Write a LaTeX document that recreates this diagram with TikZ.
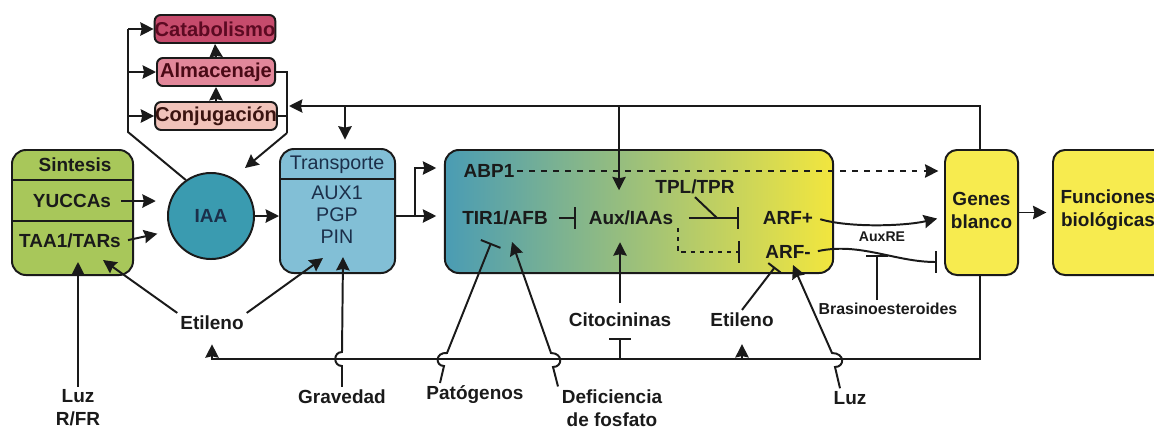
\documentclass[tikz,border=0pt]{standalone}
\usepackage{fontspec}
\setmainfont{Liberation Sans}
\usetikzlibrary{arrows.meta}
\definecolor{catF}{HTML}{C64B6C}
\definecolor{catT}{HTML}{5C0A22}
\definecolor{almF}{HTML}{E2879A}
\definecolor{almT}{HTML}{4A0A16}
\definecolor{conF}{HTML}{F1C3BA}
\definecolor{conT}{HTML}{3A1410}
\definecolor{sinF}{HTML}{A8C75A}
\definecolor{iaaF}{HTML}{3A9BB0}
\definecolor{traF}{HTML}{82BFD6}
\definecolor{bigL}{HTML}{4A9CB4}
\definecolor{bigM}{HTML}{8FC9A3}
\definecolor{bigR}{HTML}{F2E63E}
\definecolor{yel}{HTML}{F7EB4F}
\definecolor{navy}{HTML}{1B2F4A}
\definecolor{ink}{HTML}{1A1A1A}
\begin{document}
\begin{tikzpicture}[x=0.025cm,y=-0.025cm,
  ln/.style={draw=ink,line width=1.4pt},
  arr/.style={ln,-{Stealth[length=9.5pt,width=9.5pt,inset=1pt]}},
  inh/.style={ln,-{Bar[width=15pt,line width=1.4pt]}},
  inhs/.style={ln,-{Bar[width=11pt,line width=1.4pt]}},
  box/.style={draw=ink,line width=1.4pt,rounded corners=0.35cm,inner sep=0pt},
  sbox/.style={draw=ink,line width=1.4pt,rounded corners=0.15cm,inner sep=0pt,
     minimum height=0.7cm,font=\bfseries\fontsize{14.3}{15}\selectfont},
  lbl/.style={inner sep=2pt,font=\bfseries\fontsize{13.5}{16.3}\selectfont,text=ink,align=center},
  reg/.style={inner sep=2pt,font=\fontsize{14}{15.6}\selectfont,text=navy,align=center}
]
\useasboundingbox (0,0) rectangle (1154,429);

% ---- metabolism boxes
\node[sbox,fill=catF,text=catT,minimum width=3cm] (cat) at (215,29) {Catabolismo};
\node[sbox,fill=almF,text=almT,minimum width=2.95cm] (alm) at (216,72) {Almacenaje};
\node[sbox,fill=conF,text=conT,minimum width=2.95cm] (conj) at (216,116) {Conjugación};
\draw[arr] (conj.north) -- (alm.south);
\draw[arr] (alm.north) -- (cat.south);

% ---- synthesis
\node[box,fill=sinF,minimum width=3.025cm,minimum height=3.125cm] (sint) at (72.5,212.5) {};
\draw[ln] (sint.west |- 0,180) -- (sint.east |- 0,180);
\draw[ln] (sint.west |- 0,221) -- (sint.east |- 0,221);
\node[lbl] (sinT) at (75,165) {Sintesis};
\node[lbl] (yuc) at (72,201) {YUCCAs};
\node[lbl] (taa) at (70,241) {TAA1/TARs};

% ---- IAA
\node[circle,draw=ink,line width=1.4pt,fill=iaaF,minimum size=2.15cm,inner sep=0pt,
      font=\bfseries\fontsize{13.5}{15}\selectfont,text=navy] (iaa) at (211,216) {IAA};

% ---- transport
\node[box,fill=traF,minimum width=2.875cm,minimum height=3.1cm] (trans) at (337.5,211) {};
\draw[ln] (trans.west |- 0,179) -- (trans.east |- 0,179);
\node[reg] (traT) at (337,165) {Transporte};
\node[reg] (traL) at (337,215) {AUX1\\PGP\\PIN};

% ---- signalling box
\node[box,left color=bigL,middle color=bigM,right color=bigR,minimum width=9.7cm,minimum height=3.075cm] (big) at (639,211.5) {};
\node[lbl] (abp) at (489,171) {ABP1};
\node[lbl] (tir) at (505,218) {TIR1/AFB};
\node[lbl] (aux) at (631,218) {Aux/IAAs};
\node[lbl] (tpl) at (695,187) {TPL/TPR};
\node[lbl] (arfp) at (788,218) {ARF+};
\node[lbl] (arfm) at (788,252) {ARF-};

% ---- genes / functions
\node[box,fill=yel,minimum width=1.825cm,minimum height=3.125cm,rounded corners=0.3cm] (gen) at (981.5,212.5) {};
\node[lbl] (genT) at (981.5,210) {Genes\\blanco};
\node[box,fill=yel,minimum width=2.875cm,minimum height=3.125cm,rounded corners=0.3cm] (fun) at (1110.5,212.5) {};
\node[lbl] (funT) at (1108,210) {Funciones\\biológicas};

% ---- outside labels
\node[lbl] (luz1) at (78,408) {Luz\\R/FR};
\node[lbl] (etl) at (212,323) {Etileno};
\node[lbl] (grav) at (342,397) {Gravedad};
\node[lbl] (pat) at (475,395) {Patógenos};
\node[lbl] (def) at (612,408) {Deficiencia\\de fosfato};
\node[lbl] (cito) at (620,320) {Citocininas};
\node[lbl] (etr) at (742,320) {Etileno};
\node[lbl] (luz2) at (850,398) {Luz};
\node[lbl,font=\bfseries\fontsize{11.3}{13}\selectfont] (bras) at (888,309) {Brasinoesteroides};
\node[lbl,font=\bfseries\fontsize{10}{12}\selectfont] (auxre) at (882,237) {AuxRE};

% ---- named free ends
\coordinate (lpA) at (128,132);
\coordinate (lpB) at (128,29);
\coordinate (lpC) at (128,72);
\coordinate (lpD) at (128,116);
\coordinate (rpA) at (287,72);
\coordinate (rpB) at (287,133);
\coordinate (rpC) at (287,116);
\coordinate (iaaIn) at (245,168);
\coordinate (fbL) at (289,106);
\coordinate (fbT) at (345,106);
\coordinate (fbA) at (619,106);
\coordinate (br) at (415,216);
\coordinate (sintIn) at (78,262);
\coordinate (taaIn) at (103,260);
\coordinate (pinIn) at (323,258);
\coordinate (transIn) at (343,257);
\coordinate (patT) at (491,243);
\coordinate (defT) at (512,242);
\coordinate (luzT) at (793,265);
\coordinate (etrT) at (775,267);
\coordinate (brasT) at (877,255);
\coordinate (bl) at (212,359);
\coordinate (bE) at (742,359);
\coordinate (bC) at (620,359);
\coordinate (tplJ) at (717,218);
\coordinate (dA) at (678,228);
\coordinate (dB) at (678,252);

% ---- metabolism loops
\draw[ln] (iaa.125) -- (lpA) -- (lpB);
\draw[arr] (lpB) -- (cat.west);
\draw[arr] (lpC) -- (alm.west);
\draw[arr] (lpD) -- (conj.west);
\draw[ln] (alm.east) -- (rpA) -- (rpB);
\draw[ln] (conj.east) -- (rpC);
\draw[arr] (rpB) -- (iaaIn);

% ---- synthesis / transport
\draw[arr,shorten <=5pt,shorten >=8pt] (yuc.east) -- (yuc.east -| iaa.west);
\draw[arr,shorten <=3pt,shorten >=9pt] (taa.east) -- (iaa.200);
\draw[arr] (iaa.east) -- (trans.west |- iaa.east);
\draw[ln] (trans.east |- br) -- (br);
\draw[arr,shorten >=5.5pt] (br) |- (big.west |- 0,168);
\draw[arr,shorten >=5.5pt] (br) -- (big.west |- br);

% ---- top feedback
\draw[arr] (gen.north -| 980,0) |- (fbL);
\draw[arr,shorten >=6pt] (fbT) -- (fbT |- trans.north);
\draw[arr,shorten >=12.5pt] (fbA) -- (fbA |- aux.north);

% ---- inside signalling box
\draw[arr,dashed,dash pattern=on 4pt off 4.5pt,shorten >=4pt] (abp.east) -- (gen.west |- abp.east);
\draw[inh,shorten <=6pt,shorten >=7pt] (tir.east) -- (aux.west);
\draw[inh,shorten <=9pt,shorten >=15pt] (aux.east) -- (arfp.west);
\draw[ln] (tpl.south) -- (tplJ);
\draw[inh,dash pattern=on 3pt off 3.5pt] (dA) -- (dB) -- (dB -| 740,0);
\draw[arr,shorten <=3pt,shorten >=5pt] (arfp.east) .. controls (850,228) and (905,226) .. (gen.west |- 0,217);
\draw[inh,shorten <=3pt,shorten >=5pt] (arfm.east) .. controls (860,242) and (895,262) .. (gen.west |- 0,262);

% ---- bottom feedback
\draw[arr,shorten >=8pt] (gen.south -| 980,0) |- (bl) -- (etl.south);
\draw[arr,shorten >=10pt] (bE) -- (etr.south);
\draw[inh,shorten >=5.5pt] (bC) -- (cito.south);
\draw[arr,shorten <=5pt,shorten >=10pt] (cito.north) -- (cito.north |- aux.south);

% ---- external signals
\draw[arr] (luz1.north) -- (sintIn);
\draw[arr] (etl.north west) -- (taaIn);
\draw[arr] (etl.north east) -- (pinIn);
\draw[arr] (grav.north) -- (342,366) .. controls (333,366) and (333,352) .. (342,352) -- (transIn);
\draw[inh] (pat.north -| 440,0) -- (444,366) .. controls (435,366) and (435,352) .. (447,353) -- (patT);
\draw[arr] (def.north -| 558,0) -- (553,367) .. controls (563,367) and (563,353) .. (551,353) -- (defT);
\draw[arr] (luz2.north -| 840,0) -- (835,367) .. controls (845,367) and (845,353) .. (832,353) -- (luzT);
\draw[inhs] (etr.north) -- (etrT);
\draw[inh] (bras.north -| brasT) -- (brasT);
\draw[arr,shorten >=4pt] (gen.east) -- (fun.west);
\end{tikzpicture}
\end{document}
